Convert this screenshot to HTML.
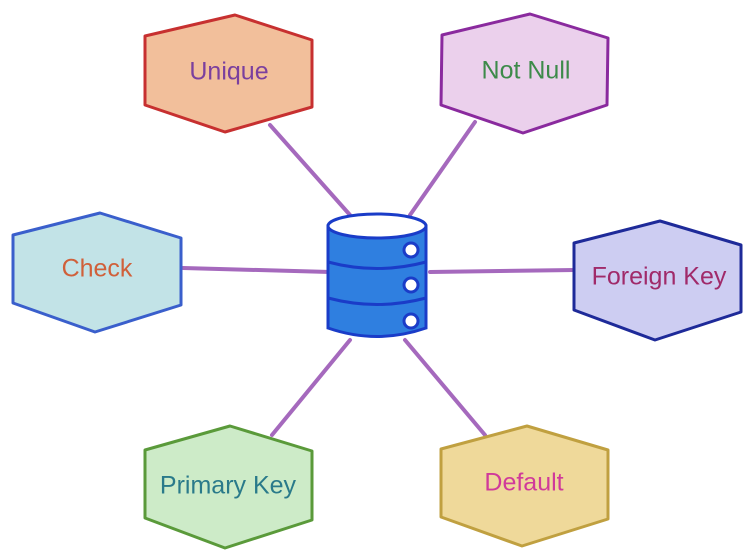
<!DOCTYPE html>
<html><head><meta charset="utf-8"><style>
html,body{margin:0;padding:0;background:#fff;}
svg{display:block;}
text{font-family:"Comic Sans MS","Liberation Sans",sans-serif;font-size:25px;text-anchor:middle;dominant-baseline:middle;}
</style></head><body>
<svg width="752" height="557" viewBox="0 0 752 557" xmlns="http://www.w3.org/2000/svg">
<rect width="752" height="557" fill="#fff"/>
<g stroke="#a569bd" stroke-width="4" stroke-linecap="round">
<line x1="270" y1="125" x2="350" y2="215"/>
<line x1="475" y1="122" x2="410" y2="215"/>
<line x1="183" y1="268" x2="330" y2="272"/>
<line x1="430" y1="272" x2="575" y2="270"/>
<line x1="350" y1="340" x2="272" y2="435"/>
<line x1="405" y1="340" x2="485" y2="435"/>
</g>
<g stroke-width="3" stroke-linejoin="round">
<polygon points="145,36 235,15 312,40 312,107 225,132 145,105" fill="#f2bf9b" stroke="#c73030"/>
<polygon points="442,35 530,14 608,38 607,105 523,133 441,105" fill="#ebd0ec" stroke="#8a2a9e"/>
<polygon points="13,235 100,213 181,238 181,305 95,332 13,303" fill="#c2e3e7" stroke="#3a5fcc"/>
<polygon points="574,243 660,221 741,245 741,312 655,340 574,310" fill="#cdcdf2" stroke="#1e2a99"/>
<polygon points="145,450 230,426 312,451 312,520 225,548 145,518" fill="#cdebc8" stroke="#5a9a3a"/>
<polygon points="441,449 527,426 608,450 608,519 522,546 441,517" fill="#efd99a" stroke="#c0a040"/>
</g>
<text x="229" y="73" fill="#7b3f9e">Unique</text>
<text x="526" y="72" fill="#3d8a4a">Not Null</text>
<text x="97" y="270" fill="#d0603a">Check</text>
<text x="659" y="278" fill="#a02a6a">Foreign Key</text>
<text x="228" y="487" fill="#2a7a8a">Primary Key</text>
<text x="524" y="484" fill="#d03a9a">Default</text>
<g stroke="#1a3cc8" stroke-width="3" fill="#2f7fe0">
<path d="M328,226 L328,328 Q377,345 426,328 L426,226 Z"/>
<path d="M328,262 Q377,275 426,262" fill="none"/>
<path d="M328,298 Q377,311 426,298" fill="none"/>
<ellipse cx="377" cy="226" rx="49" ry="12" fill="#fff"/>
<circle cx="411" cy="250" r="7" fill="#fff"/>
<circle cx="411" cy="285" r="7" fill="#fff"/>
<circle cx="411" cy="321" r="7" fill="#fff"/>
</g>
</svg>
</body></html>
